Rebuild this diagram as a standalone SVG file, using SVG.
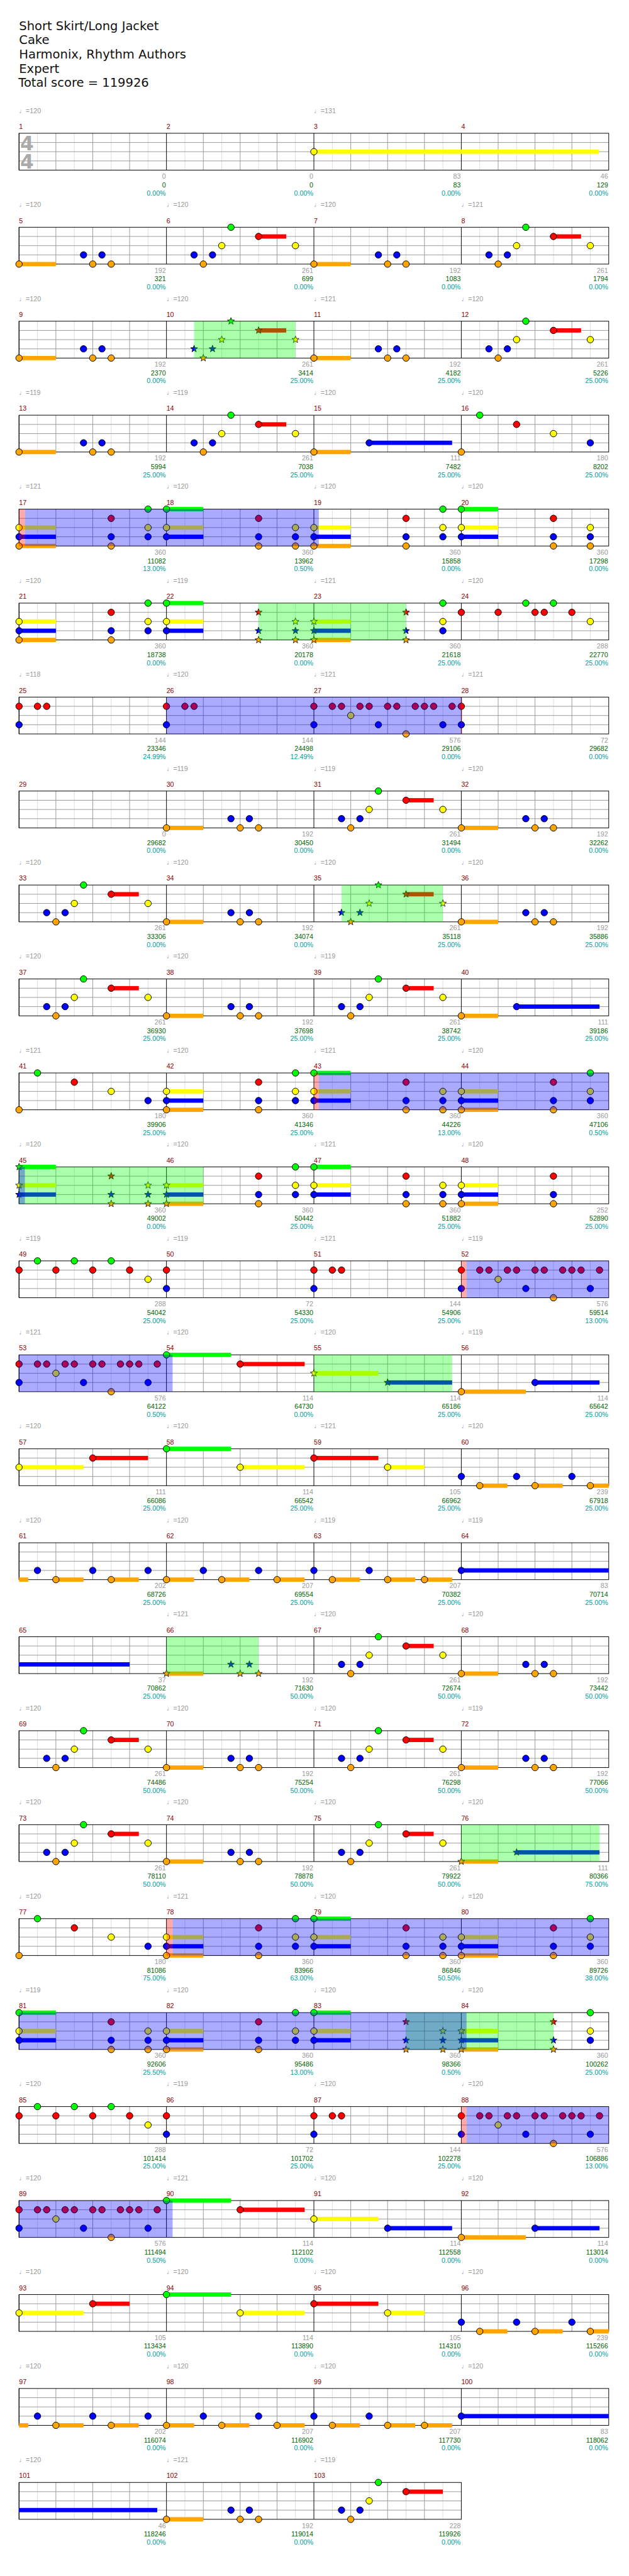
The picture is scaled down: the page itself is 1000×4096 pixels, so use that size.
<svg xmlns="http://www.w3.org/2000/svg" width="1000" height="4096" viewBox="0 0 1000 4096">
<defs>
<style>
text{font-family:"Liberation Sans","DejaVu Sans",sans-serif;font-size:11px}
.t{font-family:"DejaVu Sans","Liberation Sans",sans-serif;font-size:20px;fill:#111}
.ts{font-family:"DejaVu Sans",sans-serif;font-size:32px;font-weight:bold;fill:#aaa;text-anchor:middle}
.mn{fill:#8b0000}
.tp{fill:#999}
.a{fill:#999;text-anchor:end}
.c{fill:#006400;text-anchor:end}
.p{fill:#009c9c;text-anchor:end}
.G{fill:#0f0}.R{fill:#f00}.Y{fill:#ff0}.B{fill:#00f}.O{fill:#ffa500}
.lt{stroke:#ddd;fill:none}.dk{stroke:#999;fill:none}.bk{stroke:#000;fill:none}
.sp{fill:#0f0;fill-opacity:.333}.od{fill:#00f;fill-opacity:.333}.ac{fill:#f00;fill-opacity:.333}
</style>
<circle id="n" r="5.3" stroke="#000"/>
<polygon id="s" stroke="#000" stroke-width=".8" points="0,-6 1.47,-2.02 5.71,-1.85 2.38,0.77 3.53,4.85 0,2.5 -3.53,4.85 -2.38,0.77 -5.71,-1.85 -1.47,-2.02"/>
<g id="gm"><path class="lt" d="M30 0V60M90 0V60M150 0V60M210 0V60"/><path class="dk" d="M60 0V60M120 0V60M180 0V60M0 15H240M0 30H240M0 45H240"/><path class="bk" d="M0 0V60"/></g>
<g id="row"><use href="#gm"/><use href="#gm" x="240"/><use href="#gm" x="480"/><use href="#gm" x="720"/><rect class="bk" width="960" height="60"/></g>
<g id="pA"><rect class="O" y="56.5" width="60" height="7"/><use href="#n" class="O" y="60"/><use href="#n" class="B" x="105" y="45"/><use href="#n" class="O" x="120" y="60"/><use href="#n" class="B" x="135" y="45"/><use href="#n" class="O" x="150" y="60"/></g>
<g id="pAs"><rect class="O" y="56.5" width="60" height="7"/><use href="#s" class="O" y="60"/><use href="#s" class="B" x="105" y="45"/><use href="#s" class="O" x="120" y="60"/><use href="#s" class="B" x="135" y="45"/><use href="#s" class="O" x="150" y="60"/></g>
<g id="pB"><rect class="R" x="150" y="11.5" width="45" height="7"/><use href="#n" class="B" x="45" y="45"/><use href="#n" class="O" x="60" y="60"/><use href="#n" class="B" x="75" y="45"/><use href="#n" class="Y" x="90" y="30"/><use href="#n" class="G" x="105"/><use href="#n" class="R" x="150" y="15"/><use href="#n" class="Y" x="210" y="30"/></g>
<g id="pBs"><rect class="R" x="150" y="11.5" width="45" height="7"/><use href="#s" class="B" x="45" y="45"/><use href="#s" class="O" x="60" y="60"/><use href="#s" class="B" x="75" y="45"/><use href="#s" class="Y" x="90" y="30"/><use href="#s" class="G" x="105"/><use href="#s" class="R" x="150" y="15"/><use href="#s" class="Y" x="210" y="30"/></g>
<g id="pB2"><rect class="R" x="150" y="11.5" width="60" height="7"/><use href="#n" class="B" x="45" y="45"/><use href="#n" class="O" x="60" y="60"/><use href="#n" class="B" x="75" y="45"/><use href="#n" class="Y" x="90" y="30"/><use href="#n" class="G" x="105"/><use href="#n" class="R" x="150" y="15"/></g>
<g id="kYBO"><use href="#n" class="Y" y="30"/><use href="#n" class="B" y="45"/><use href="#n" class="O" y="60"/></g>
<g id="kRBO"><use href="#n" class="R" y="15"/><use href="#n" class="B" y="45"/><use href="#n" class="O" y="60"/></g>
<g id="kGYB"><use href="#n" class="G"/><use href="#n" class="Y" y="30"/><use href="#n" class="B" y="45"/></g>
<g id="sYBO"><use href="#s" class="Y" y="30"/><use href="#s" class="B" y="45"/><use href="#s" class="O" y="60"/></g>
<g id="sRBO"><use href="#s" class="R" y="15"/><use href="#s" class="B" y="45"/><use href="#s" class="O" y="60"/></g>
<g id="sGYB"><use href="#s" class="G"/><use href="#s" class="Y" y="30"/><use href="#s" class="B" y="45"/></g>
<g id="bYBO"><rect class="Y" y="26.5" width="60" height="7"/><rect class="B" y="41.5" width="60" height="7"/><rect class="O" y="56.5" width="60" height="7"/></g>
<g id="bGYB"><rect class="G" y="-3.5" width="60" height="7"/><rect class="Y" y="26.5" width="60" height="7"/><rect class="B" y="41.5" width="60" height="7"/></g>
<g id="pC"><use href="#bYBO"/><use href="#kYBO"/><use href="#kRBO" x="150"/><use href="#kGYB" x="210"/></g>
<g id="pD"><use href="#bGYB"/><use href="#kGYB"/><use href="#kRBO" x="150"/><use href="#kYBO" x="210"/></g>
<g id="pE"><use href="#n" class="R" y="15"/><use href="#n" class="B" y="45"/><use href="#n" class="R" x="30" y="15"/><use href="#n" class="R" x="45" y="15"/><use href="#n" class="Y" x="60" y="30"/><use href="#n" class="R" x="75" y="15"/><use href="#n" class="R" x="90" y="15"/><use href="#n" class="B" x="105" y="45"/><use href="#n" class="R" x="120" y="15"/><use href="#n" class="R" x="135" y="15"/><use href="#n" class="O" x="150" y="60"/><use href="#n" class="R" x="165" y="15"/><use href="#n" class="R" x="180" y="15"/><use href="#n" class="R" x="195" y="15"/><use href="#n" class="B" x="210" y="45"/><use href="#n" class="R" x="225" y="15"/></g>
<g id="pF"><use href="#n" class="O" y="60"/><use href="#n" class="G" x="30"/><use href="#n" class="R" x="90" y="15"/><use href="#n" class="Y" x="150" y="30"/><use href="#n" class="B" x="210" y="45"/></g>
<g id="pG"><use href="#n" class="R" y="15"/><use href="#n" class="G" x="30"/><use href="#n" class="R" x="60" y="15"/><use href="#n" class="G" x="90"/><use href="#n" class="R" x="120" y="15"/><use href="#n" class="G" x="150"/><use href="#n" class="R" x="180" y="15"/><use href="#n" class="Y" x="210" y="30"/></g>
<g id="pH"><use href="#n" class="R" y="15"/><use href="#n" class="B" y="45"/><use href="#n" class="R" x="30" y="15"/><use href="#n" class="R" x="45" y="15"/></g>
<g id="pRB"><use href="#n" class="R" y="15"/><use href="#n" class="B" y="45"/></g>
<g id="pI"><rect class="O" y="56.5" width="60" height="7"/><rect class="B" x="90" y="41.5" width="135" height="7"/><use href="#n" class="O" y="60"/><use href="#n" class="B" x="90" y="45"/></g>
<g id="pJ"><rect class="O" x="30" y="56.5" width="45" height="7"/><rect class="O" x="120" y="56.5" width="45" height="7"/><rect class="O" x="210" y="56.5" width="30" height="7"/><use href="#n" class="B" y="45"/><use href="#n" class="O" x="30" y="60"/><use href="#n" class="B" x="90" y="45"/><use href="#n" class="O" x="120" y="60"/><use href="#n" class="B" x="180" y="45"/><use href="#n" class="O" x="210" y="60"/></g>
<g id="pK"><rect class="O" y="56.5" width="15" height="7"/><rect class="O" x="60" y="56.5" width="45" height="7"/><rect class="O" x="150" y="56.5" width="45" height="7"/><use href="#n" class="B" x="30" y="45"/><use href="#n" class="O" x="60" y="60"/><use href="#n" class="B" x="120" y="45"/><use href="#n" class="O" x="150" y="60"/><use href="#n" class="B" x="210" y="45"/></g>
<g id="pL"><rect class="O" y="56.5" width="45" height="7"/><rect class="O" x="90" y="56.5" width="45" height="7"/><rect class="O" x="180" y="56.5" width="45" height="7"/><use href="#n" class="O" y="60"/><use href="#n" class="B" x="60" y="45"/><use href="#n" class="O" x="90" y="60"/><use href="#n" class="B" x="150" y="45"/><use href="#n" class="O" x="180" y="60"/></g>
<g id="pM"><rect class="O" x="30" y="56.5" width="45" height="7"/><rect class="O" x="120" y="56.5" width="45" height="7"/><rect class="O" x="180" y="56.5" width="45" height="7"/><use href="#n" class="B" y="45"/><use href="#n" class="O" x="30" y="60"/><use href="#n" class="B" x="90" y="45"/><use href="#n" class="O" x="120" y="60"/><use href="#n" class="O" x="180" y="60"/></g>
<g id="pBL"><rect class="B" y="41.5" width="240" height="7"/><use href="#n" class="B" y="45"/></g>
</defs>
<g transform="scale(0.9765625)">
<g id="title">
<text class="t" x="31" y="49">Short Skirt/Long Jacket</text>
<text class="t" x="31" y="72">Cake</text>
<text class="t" x="31" y="95.5">Harmonix, Rhythm Authors</text>
<text class="t" x="31" y="118.5">Expert</text>
<text class="t" x="30" y="141.5">Total score = 119926</text>
</g>
<g id="grid">
<use href="#row" x="31" y="217"/><use href="#row" x="31" y="370"/><use href="#row" x="31" y="523"/><use href="#row" x="31" y="676"/><use href="#row" x="31" y="829"/><use href="#row" x="31" y="982"/><use href="#row" x="31" y="1135"/><use href="#row" x="31" y="1288"/><use href="#row" x="31" y="1441"/><use href="#row" x="31" y="1594"/><use href="#row" x="31" y="1747"/><use href="#row" x="31" y="1900"/><use href="#row" x="31" y="2053"/><use href="#row" x="31" y="2206"/><use href="#row" x="31" y="2359"/><use href="#row" x="31" y="2512"/><use href="#row" x="31" y="2665"/><use href="#row" x="31" y="2818"/><use href="#row" x="31" y="2971"/><use href="#row" x="31" y="3124"/><use href="#row" x="31" y="3277"/><use href="#row" x="31" y="3430"/><use href="#row" x="31" y="3583"/><use href="#row" x="31" y="3736"/><use href="#row" x="31" y="3889"/>
<g transform="translate(31,4042)"><use href="#gm"/><use href="#gm" x="240"/><use href="#gm" x="480"/><rect class="bk" width="720" height="60"/></g>
</g>
<g id="measures">
<g id="m1" transform="translate(31,217)"><text class="ts" x="13" y="28">4</text><text class="ts" x="13" y="57">4</text><text class="mn" y="-7">1</text><text class="tp" y="-33">♩=120</text><text class="a" x="239" y="74">0</text><text class="c" x="239" y="88">0</text><text class="p" x="239" y="101">0.00%</text></g>
<g id="m2" transform="translate(271,217)"><text class="mn" y="-7">2</text><text class="a" x="239" y="74">0</text><text class="c" x="239" y="88">0</text><text class="p" x="239" y="101">0.00%</text></g>
<g id="m3" transform="translate(511,217)"><text class="mn" y="-7">3</text><text class="tp" y="-33">♩=131</text><text class="a" x="239" y="74">83</text><text class="c" x="239" y="88">83</text><text class="p" x="239" y="101">0.00%</text><rect class="Y" y="26.5" width="464" height="7"/><use href="#n" class="Y" y="30"/></g>
<g id="m4" transform="translate(751,217)"><text class="mn" y="-7">4</text><text class="a" x="239" y="74">46</text><text class="c" x="239" y="88">129</text><text class="p" x="239" y="101">0.00%</text></g>
<g id="m5" transform="translate(31,370)"><text class="mn" y="-7">5</text><text class="tp" y="-33">♩=120</text><text class="a" x="239" y="74">192</text><text class="c" x="239" y="88">321</text><text class="p" x="239" y="101">0.00%</text><use href="#pA"/></g>
<g id="m6" transform="translate(271,370)"><text class="mn" y="-7">6</text><text class="tp" y="-33">♩=120</text><text class="a" x="239" y="74">261</text><text class="c" x="239" y="88">699</text><text class="p" x="239" y="101">0.00%</text><use href="#pB"/></g>
<g id="m7" transform="translate(511,370)"><text class="mn" y="-7">7</text><text class="tp" y="-33">♩=120</text><text class="a" x="239" y="74">192</text><text class="c" x="239" y="88">1083</text><text class="p" x="239" y="101">0.00%</text><use href="#pA"/></g>
<g id="m8" transform="translate(751,370)"><text class="mn" y="-7">8</text><text class="tp" y="-33">♩=121</text><text class="a" x="239" y="74">261</text><text class="c" x="239" y="88">1794</text><text class="p" x="239" y="101">0.00%</text><use href="#pB"/></g>
<g id="m9" transform="translate(31,523)"><text class="mn" y="-7">9</text><text class="tp" y="-33">♩=120</text><text class="a" x="239" y="74">192</text><text class="c" x="239" y="88">2370</text><text class="p" x="239" y="101">0.00%</text><use href="#pA"/></g>
<g id="m10" transform="translate(271,523)"><text class="mn" y="-7">10</text><text class="tp" y="-33">♩=120</text><text class="a" x="239" y="74">261</text><text class="c" x="239" y="88">3414</text><text class="p" x="239" y="101">25.00%</text><use href="#pBs"/></g>
<g id="m11" transform="translate(511,523)"><text class="mn" y="-7">11</text><text class="tp" y="-33">♩=121</text><text class="a" x="239" y="74">192</text><text class="c" x="239" y="88">4182</text><text class="p" x="239" y="101">25.00%</text><use href="#pA"/></g>
<g id="m12" transform="translate(751,523)"><text class="mn" y="-7">12</text><text class="tp" y="-33">♩=120</text><text class="a" x="239" y="74">261</text><text class="c" x="239" y="88">5226</text><text class="p" x="239" y="101">25.00%</text><use href="#pB"/></g>
<g id="m13" transform="translate(31,676)"><text class="mn" y="-7">13</text><text class="tp" y="-33">♩=119</text><text class="a" x="239" y="74">192</text><text class="c" x="239" y="88">5994</text><text class="p" x="239" y="101">25.00%</text><use href="#pA"/></g>
<g id="m14" transform="translate(271,676)"><text class="mn" y="-7">14</text><text class="tp" y="-33">♩=119</text><text class="a" x="239" y="74">261</text><text class="c" x="239" y="88">7038</text><text class="p" x="239" y="101">25.00%</text><use href="#pB"/></g>
<g id="m15" transform="translate(511,676)"><text class="mn" y="-7">15</text><text class="tp" y="-33">♩=120</text><text class="a" x="239" y="74">111</text><text class="c" x="239" y="88">7482</text><text class="p" x="239" y="101">25.00%</text><use href="#pI"/></g>
<g id="m16" transform="translate(751,676)"><text class="mn" y="-7">16</text><text class="tp" y="-33">♩=120</text><text class="a" x="239" y="74">180</text><text class="c" x="239" y="88">8202</text><text class="p" x="239" y="101">25.00%</text><use href="#pF"/></g>
<g id="m17" transform="translate(31,829)"><text class="mn" y="-7">17</text><text class="tp" y="-33">♩=121</text><text class="a" x="239" y="74">360</text><text class="c" x="239" y="88">11082</text><text class="p" x="239" y="101">13.00%</text><use href="#pC"/></g>
<g id="m18" transform="translate(271,829)"><text class="mn" y="-7">18</text><text class="tp" y="-33">♩=120</text><text class="a" x="239" y="74">360</text><text class="c" x="239" y="88">13962</text><text class="p" x="239" y="101">0.50%</text><use href="#pD"/></g>
<g id="m19" transform="translate(511,829)"><text class="mn" y="-7">19</text><text class="tp" y="-33">♩=120</text><text class="a" x="239" y="74">360</text><text class="c" x="239" y="88">15858</text><text class="p" x="239" y="101">0.00%</text><use href="#pC"/></g>
<g id="m20" transform="translate(751,829)"><text class="mn" y="-7">20</text><text class="tp" y="-33">♩=120</text><text class="a" x="239" y="74">360</text><text class="c" x="239" y="88">17298</text><text class="p" x="239" y="101">0.00%</text><use href="#pD"/></g>
<g id="m21" transform="translate(31,982)"><text class="mn" y="-7">21</text><text class="tp" y="-33">♩=120</text><text class="a" x="239" y="74">360</text><text class="c" x="239" y="88">18738</text><text class="p" x="239" y="101">0.00%</text><use href="#pC"/></g>
<g id="m22" transform="translate(271,982)"><text class="mn" y="-7">22</text><text class="tp" y="-33">♩=119</text><text class="a" x="239" y="74">360</text><text class="c" x="239" y="88">20178</text><text class="p" x="239" y="101">0.00%</text><use href="#bGYB"/><use href="#kGYB"/><use href="#sRBO" x="150"/><use href="#sYBO" x="210"/></g>
<g id="m23" transform="translate(511,982)"><text class="mn" y="-7">23</text><text class="tp" y="-33">♩=121</text><text class="a" x="239" y="74">360</text><text class="c" x="239" y="88">21618</text><text class="p" x="239" y="101">25.00%</text><use href="#bYBO"/><use href="#sYBO"/><use href="#sRBO" x="150"/><use href="#kGYB" x="210"/></g>
<g id="m24" transform="translate(751,982)"><text class="mn" y="-7">24</text><text class="tp" y="-33">♩=120</text><text class="a" x="239" y="74">288</text><text class="c" x="239" y="88">22770</text><text class="p" x="239" y="101">25.00%</text><use href="#n" class="R" y="15"/><use href="#n" class="R" x="60" y="15"/><use href="#n" class="G" x="105"/><use href="#n" class="R" x="120" y="15"/><use href="#n" class="R" x="135" y="15"/><use href="#n" class="G" x="150"/><use href="#n" class="R" x="180" y="15"/><use href="#n" class="Y" x="210" y="30"/></g>
<g id="m25" transform="translate(31,1135)"><text class="mn" y="-7">25</text><text class="tp" y="-33">♩=118</text><text class="a" x="239" y="74">144</text><text class="c" x="239" y="88">23346</text><text class="p" x="239" y="101">24.99%</text><use href="#pH"/></g>
<g id="m26" transform="translate(271,1135)"><text class="mn" y="-7">26</text><text class="tp" y="-33">♩=120</text><text class="a" x="239" y="74">144</text><text class="c" x="239" y="88">24498</text><text class="p" x="239" y="101">12.49%</text><use href="#pH"/></g>
<g id="m27" transform="translate(511,1135)"><text class="mn" y="-7">27</text><text class="tp" y="-33">♩=121</text><text class="a" x="239" y="74">576</text><text class="c" x="239" y="88">29106</text><text class="p" x="239" y="101">0.00%</text><use href="#pE"/></g>
<g id="m28" transform="translate(751,1135)"><text class="mn" y="-7">28</text><text class="tp" y="-33">♩=121</text><text class="a" x="239" y="74">72</text><text class="c" x="239" y="88">29682</text><text class="p" x="239" y="101">0.00%</text><use href="#pRB"/></g>
<g id="m29" transform="translate(31,1288)"><text class="mn" y="-7">29</text><text class="a" x="239" y="74">0</text><text class="c" x="239" y="88">29682</text><text class="p" x="239" y="101">0.00%</text></g>
<g id="m30" transform="translate(271,1288)"><text class="mn" y="-7">30</text><text class="tp" y="-33">♩=119</text><text class="a" x="239" y="74">192</text><text class="c" x="239" y="88">30450</text><text class="p" x="239" y="101">0.00%</text><use href="#pA"/></g>
<g id="m31" transform="translate(511,1288)"><text class="mn" y="-7">31</text><text class="tp" y="-33">♩=119</text><text class="a" x="239" y="74">261</text><text class="c" x="239" y="88">31494</text><text class="p" x="239" y="101">0.00%</text><use href="#pB"/></g>
<g id="m32" transform="translate(751,1288)"><text class="mn" y="-7">32</text><text class="tp" y="-33">♩=120</text><text class="a" x="239" y="74">192</text><text class="c" x="239" y="88">32262</text><text class="p" x="239" y="101">0.00%</text><use href="#pA"/></g>
<g id="m33" transform="translate(31,1441)"><text class="mn" y="-7">33</text><text class="tp" y="-33">♩=120</text><text class="a" x="239" y="74">261</text><text class="c" x="239" y="88">33306</text><text class="p" x="239" y="101">0.00%</text><use href="#pB"/></g>
<g id="m34" transform="translate(271,1441)"><text class="mn" y="-7">34</text><text class="tp" y="-33">♩=120</text><text class="a" x="239" y="74">192</text><text class="c" x="239" y="88">34074</text><text class="p" x="239" y="101">0.00%</text><use href="#pA"/></g>
<g id="m35" transform="translate(511,1441)"><text class="mn" y="-7">35</text><text class="tp" y="-33">♩=120</text><text class="a" x="239" y="74">261</text><text class="c" x="239" y="88">35118</text><text class="p" x="239" y="101">25.00%</text><use href="#pBs"/></g>
<g id="m36" transform="translate(751,1441)"><text class="mn" y="-7">36</text><text class="tp" y="-33">♩=120</text><text class="a" x="239" y="74">192</text><text class="c" x="239" y="88">35886</text><text class="p" x="239" y="101">25.00%</text><use href="#pA"/></g>
<g id="m37" transform="translate(31,1594)"><text class="mn" y="-7">37</text><text class="tp" y="-33">♩=120</text><text class="a" x="239" y="74">261</text><text class="c" x="239" y="88">36930</text><text class="p" x="239" y="101">25.00%</text><use href="#pB"/></g>
<g id="m38" transform="translate(271,1594)"><text class="mn" y="-7">38</text><text class="tp" y="-33">♩=120</text><text class="a" x="239" y="74">192</text><text class="c" x="239" y="88">37698</text><text class="p" x="239" y="101">25.00%</text><use href="#pA"/></g>
<g id="m39" transform="translate(511,1594)"><text class="mn" y="-7">39</text><text class="tp" y="-33">♩=119</text><text class="a" x="239" y="74">261</text><text class="c" x="239" y="88">38742</text><text class="p" x="239" y="101">25.00%</text><use href="#pB"/></g>
<g id="m40" transform="translate(751,1594)"><text class="mn" y="-7">40</text><text class="a" x="239" y="74">111</text><text class="c" x="239" y="88">39186</text><text class="p" x="239" y="101">25.00%</text><use href="#pI"/></g>
<g id="m41" transform="translate(31,1747)"><text class="mn" y="-7">41</text><text class="tp" y="-33">♩=121</text><text class="a" x="239" y="74">180</text><text class="c" x="239" y="88">39906</text><text class="p" x="239" y="101">25.00%</text><use href="#pF"/></g>
<g id="m42" transform="translate(271,1747)"><text class="mn" y="-7">42</text><text class="tp" y="-33">♩=120</text><text class="a" x="239" y="74">360</text><text class="c" x="239" y="88">41346</text><text class="p" x="239" y="101">25.00%</text><use href="#pC"/></g>
<g id="m43" transform="translate(511,1747)"><text class="mn" y="-7">43</text><text class="tp" y="-33">♩=121</text><text class="a" x="239" y="74">360</text><text class="c" x="239" y="88">44226</text><text class="p" x="239" y="101">13.00%</text><use href="#pD"/></g>
<g id="m44" transform="translate(751,1747)"><text class="mn" y="-7">44</text><text class="tp" y="-33">♩=120</text><text class="a" x="239" y="74">360</text><text class="c" x="239" y="88">47106</text><text class="p" x="239" y="101">0.50%</text><use href="#pC"/></g>
<g id="m45" transform="translate(31,1900)"><text class="mn" y="-7">45</text><text class="tp" y="-33">♩=120</text><text class="a" x="239" y="74">360</text><text class="c" x="239" y="88">49002</text><text class="p" x="239" y="101">0.00%</text><use href="#bGYB"/><use href="#sGYB"/><use href="#sRBO" x="150"/><use href="#sYBO" x="210"/></g>
<g id="m46" transform="translate(271,1900)"><text class="mn" y="-7">46</text><text class="tp" y="-33">♩=120</text><text class="a" x="239" y="74">360</text><text class="c" x="239" y="88">50442</text><text class="p" x="239" y="101">25.00%</text><use href="#bYBO"/><use href="#sYBO"/><use href="#kRBO" x="150"/><use href="#kGYB" x="210"/></g>
<g id="m47" transform="translate(511,1900)"><text class="mn" y="-7">47</text><text class="tp" y="-33">♩=121</text><text class="a" x="239" y="74">360</text><text class="c" x="239" y="88">51882</text><text class="p" x="239" y="101">25.00%</text><use href="#pD"/></g>
<g id="m48" transform="translate(751,1900)"><text class="mn" y="-7">48</text><text class="tp" y="-33">♩=120</text><text class="a" x="239" y="74">252</text><text class="c" x="239" y="88">52890</text><text class="p" x="239" y="101">25.00%</text><use href="#bYBO"/><use href="#kYBO"/><use href="#kRBO" x="150"/></g>
<g id="m49" transform="translate(31,2053)"><text class="mn" y="-7">49</text><text class="tp" y="-33">♩=119</text><text class="a" x="239" y="74">288</text><text class="c" x="239" y="88">54042</text><text class="p" x="239" y="101">25.00%</text><use href="#pG"/></g>
<g id="m50" transform="translate(271,2053)"><text class="mn" y="-7">50</text><text class="tp" y="-33">♩=119</text><text class="a" x="239" y="74">72</text><text class="c" x="239" y="88">54330</text><text class="p" x="239" y="101">25.00%</text><use href="#pRB"/></g>
<g id="m51" transform="translate(511,2053)"><text class="mn" y="-7">51</text><text class="tp" y="-33">♩=121</text><text class="a" x="239" y="74">144</text><text class="c" x="239" y="88">54906</text><text class="p" x="239" y="101">25.00%</text><use href="#pH"/></g>
<g id="m52" transform="translate(751,2053)"><text class="mn" y="-7">52</text><text class="tp" y="-33">♩=119</text><text class="a" x="239" y="74">576</text><text class="c" x="239" y="88">59514</text><text class="p" x="239" y="101">13.00%</text><use href="#pE"/></g>
<g id="m53" transform="translate(31,2206)"><text class="mn" y="-7">53</text><text class="tp" y="-33">♩=121</text><text class="a" x="239" y="74">576</text><text class="c" x="239" y="88">64122</text><text class="p" x="239" y="101">0.50%</text><use href="#pE"/></g>
<g id="m54" transform="translate(271,2206)"><text class="mn" y="-7">54</text><text class="tp" y="-33">♩=120</text><text class="a" x="239" y="74">114</text><text class="c" x="239" y="88">64730</text><text class="p" x="239" y="101">0.00%</text><rect class="G" y="-3.5" width="105" height="7"/><rect class="R" x="120" y="11.5" width="105" height="7"/><use href="#n" class="G"/><use href="#n" class="R" x="120" y="15"/></g>
<g id="m55" transform="translate(511,2206)"><text class="mn" y="-7">55</text><text class="tp" y="-33">♩=120</text><text class="a" x="239" y="74">114</text><text class="c" x="239" y="88">65186</text><text class="p" x="239" y="101">25.00%</text><rect class="Y" y="26.5" width="105" height="7"/><rect class="B" x="120" y="41.5" width="105" height="7"/><use href="#s" class="Y" y="30"/><use href="#s" class="B" x="120" y="45"/></g>
<g id="m56" transform="translate(751,2206)"><text class="mn" y="-7">56</text><text class="tp" y="-33">♩=119</text><text class="a" x="239" y="74">114</text><text class="c" x="239" y="88">65642</text><text class="p" x="239" y="101">25.00%</text><rect class="O" y="56.5" width="105" height="7"/><rect class="B" x="120" y="41.5" width="105" height="7"/><use href="#n" class="O" y="60"/><use href="#n" class="B" x="120" y="45"/></g>
<g id="m57" transform="translate(31,2359)"><text class="mn" y="-7">57</text><text class="tp" y="-33">♩=120</text><text class="a" x="239" y="74">111</text><text class="c" x="239" y="88">66086</text><text class="p" x="239" y="101">25.00%</text><rect class="Y" y="26.5" width="105" height="7"/><rect class="R" x="120" y="11.5" width="90" height="7"/><use href="#n" class="Y" y="30"/><use href="#n" class="R" x="120" y="15"/></g>
<g id="m58" transform="translate(271,2359)"><text class="mn" y="-7">58</text><text class="tp" y="-33">♩=120</text><text class="a" x="239" y="74">114</text><text class="c" x="239" y="88">66542</text><text class="p" x="239" y="101">25.00%</text><rect class="G" y="-3.5" width="105" height="7"/><rect class="Y" x="120" y="26.5" width="105" height="7"/><use href="#n" class="G"/><use href="#n" class="Y" x="120" y="30"/></g>
<g id="m59" transform="translate(511,2359)"><text class="mn" y="-7">59</text><text class="tp" y="-33">♩=121</text><text class="a" x="239" y="74">105</text><text class="c" x="239" y="88">66962</text><text class="p" x="239" y="101">25.00%</text><rect class="R" y="11.5" width="105" height="7"/><rect class="Y" x="120" y="26.5" width="60" height="7"/><use href="#n" class="R" y="15"/><use href="#n" class="Y" x="120" y="30"/></g>
<g id="m60" transform="translate(751,2359)"><text class="mn" y="-7">60</text><text class="tp" y="-33">♩=120</text><text class="a" x="239" y="74">239</text><text class="c" x="239" y="88">67918</text><text class="p" x="239" y="101">25.00%</text><use href="#pJ"/></g>
<g id="m61" transform="translate(31,2512)"><text class="mn" y="-7">61</text><text class="tp" y="-33">♩=120</text><text class="a" x="239" y="74">202</text><text class="c" x="239" y="88">68726</text><text class="p" x="239" y="101">25.00%</text><use href="#pK"/></g>
<g id="m62" transform="translate(271,2512)"><text class="mn" y="-7">62</text><text class="tp" y="-33">♩=120</text><text class="a" x="239" y="74">207</text><text class="c" x="239" y="88">69554</text><text class="p" x="239" y="101">25.00%</text><use href="#pL"/></g>
<g id="m63" transform="translate(511,2512)"><text class="mn" y="-7">63</text><text class="tp" y="-33">♩=119</text><text class="a" x="239" y="74">207</text><text class="c" x="239" y="88">70382</text><text class="p" x="239" y="101">25.00%</text><use href="#pM"/></g>
<g id="m64" transform="translate(751,2512)"><text class="mn" y="-7">64</text><text class="tp" y="-33">♩=119</text><text class="a" x="239" y="74">83</text><text class="c" x="239" y="88">70714</text><text class="p" x="239" y="101">25.00%</text><use href="#pBL"/></g>
<g id="m65" transform="translate(31,2665)"><text class="mn" y="-7">65</text><text class="a" x="239" y="74">37</text><text class="c" x="239" y="88">70862</text><text class="p" x="239" y="101">25.00%</text><rect class="B" y="41.5" width="180" height="7"/></g>
<g id="m66" transform="translate(271,2665)"><text class="mn" y="-7">66</text><text class="tp" y="-33">♩=121</text><text class="a" x="239" y="74">192</text><text class="c" x="239" y="88">71630</text><text class="p" x="239" y="101">50.00%</text><use href="#pAs"/></g>
<g id="m67" transform="translate(511,2665)"><text class="mn" y="-7">67</text><text class="tp" y="-33">♩=120</text><text class="a" x="239" y="74">261</text><text class="c" x="239" y="88">72674</text><text class="p" x="239" y="101">50.00%</text><use href="#pB"/></g>
<g id="m68" transform="translate(751,2665)"><text class="mn" y="-7">68</text><text class="tp" y="-33">♩=120</text><text class="a" x="239" y="74">192</text><text class="c" x="239" y="88">73442</text><text class="p" x="239" y="101">50.00%</text><use href="#pA"/></g>
<g id="m69" transform="translate(31,2818)"><text class="mn" y="-7">69</text><text class="tp" y="-33">♩=120</text><text class="a" x="239" y="74">261</text><text class="c" x="239" y="88">74486</text><text class="p" x="239" y="101">50.00%</text><use href="#pB"/></g>
<g id="m70" transform="translate(271,2818)"><text class="mn" y="-7">70</text><text class="tp" y="-33">♩=120</text><text class="a" x="239" y="74">192</text><text class="c" x="239" y="88">75254</text><text class="p" x="239" y="101">50.00%</text><use href="#pA"/></g>
<g id="m71" transform="translate(511,2818)"><text class="mn" y="-7">71</text><text class="tp" y="-33">♩=120</text><text class="a" x="239" y="74">261</text><text class="c" x="239" y="88">76298</text><text class="p" x="239" y="101">50.00%</text><use href="#pB"/></g>
<g id="m72" transform="translate(751,2818)"><text class="mn" y="-7">72</text><text class="tp" y="-33">♩=119</text><text class="a" x="239" y="74">192</text><text class="c" x="239" y="88">77066</text><text class="p" x="239" y="101">50.00%</text><use href="#pA"/></g>
<g id="m73" transform="translate(31,2971)"><text class="mn" y="-7">73</text><text class="tp" y="-33">♩=120</text><text class="a" x="239" y="74">261</text><text class="c" x="239" y="88">78110</text><text class="p" x="239" y="101">50.00%</text><use href="#pB"/></g>
<g id="m74" transform="translate(271,2971)"><text class="mn" y="-7">74</text><text class="tp" y="-33">♩=120</text><text class="a" x="239" y="74">192</text><text class="c" x="239" y="88">78878</text><text class="p" x="239" y="101">50.00%</text><use href="#pA"/></g>
<g id="m75" transform="translate(511,2971)"><text class="mn" y="-7">75</text><text class="tp" y="-33">♩=120</text><text class="a" x="239" y="74">261</text><text class="c" x="239" y="88">79922</text><text class="p" x="239" y="101">50.00%</text><use href="#pB"/></g>
<g id="m76" transform="translate(751,2971)"><text class="mn" y="-7">76</text><text class="tp" y="-33">♩=120</text><text class="a" x="239" y="74">111</text><text class="c" x="239" y="88">80366</text><text class="p" x="239" y="101">75.00%</text><rect class="O" y="56.5" width="60" height="7"/><rect class="B" x="90" y="41.5" width="135" height="7"/><use href="#s" class="O" y="60"/><use href="#s" class="B" x="90" y="45"/></g>
<g id="m77" transform="translate(31,3124)"><text class="mn" y="-7">77</text><text class="tp" y="-33">♩=120</text><text class="a" x="239" y="74">180</text><text class="c" x="239" y="88">81086</text><text class="p" x="239" y="101">75.00%</text><use href="#pF"/></g>
<g id="m78" transform="translate(271,3124)"><text class="mn" y="-7">78</text><text class="tp" y="-33">♩=121</text><text class="a" x="239" y="74">360</text><text class="c" x="239" y="88">83966</text><text class="p" x="239" y="101">63.00%</text><use href="#pC"/></g>
<g id="m79" transform="translate(511,3124)"><text class="mn" y="-7">79</text><text class="tp" y="-33">♩=120</text><text class="a" x="239" y="74">360</text><text class="c" x="239" y="88">86846</text><text class="p" x="239" y="101">50.50%</text><use href="#pD"/></g>
<g id="m80" transform="translate(751,3124)"><text class="mn" y="-7">80</text><text class="tp" y="-33">♩=120</text><text class="a" x="239" y="74">360</text><text class="c" x="239" y="88">89726</text><text class="p" x="239" y="101">38.00%</text><use href="#pC"/></g>
<g id="m81" transform="translate(31,3277)"><text class="mn" y="-7">81</text><text class="tp" y="-33">♩=119</text><text class="a" x="239" y="74">360</text><text class="c" x="239" y="88">92606</text><text class="p" x="239" y="101">25.50%</text><use href="#pD"/></g>
<g id="m82" transform="translate(271,3277)"><text class="mn" y="-7">82</text><text class="tp" y="-33">♩=120</text><text class="a" x="239" y="74">360</text><text class="c" x="239" y="88">95486</text><text class="p" x="239" y="101">13.00%</text><use href="#pC"/></g>
<g id="m83" transform="translate(511,3277)"><text class="mn" y="-7">83</text><text class="tp" y="-33">♩=120</text><text class="a" x="239" y="74">360</text><text class="c" x="239" y="88">98366</text><text class="p" x="239" y="101">0.50%</text><use href="#bGYB"/><use href="#kGYB"/><use href="#sRBO" x="150"/><use href="#sYBO" x="210"/></g>
<g id="m84" transform="translate(751,3277)"><text class="mn" y="-7">84</text><text class="tp" y="-33">♩=120</text><text class="a" x="239" y="74">360</text><text class="c" x="239" y="88">100262</text><text class="p" x="239" y="101">25.00%</text><use href="#bYBO"/><use href="#sYBO"/><use href="#sRBO" x="150"/><use href="#kGYB" x="210"/></g>
<g id="m85" transform="translate(31,3430)"><text class="mn" y="-7">85</text><text class="tp" y="-33">♩=120</text><text class="a" x="239" y="74">288</text><text class="c" x="239" y="88">101414</text><text class="p" x="239" y="101">25.00%</text><use href="#pG"/></g>
<g id="m86" transform="translate(271,3430)"><text class="mn" y="-7">86</text><text class="tp" y="-33">♩=119</text><text class="a" x="239" y="74">72</text><text class="c" x="239" y="88">101702</text><text class="p" x="239" y="101">25.00%</text><use href="#pRB"/></g>
<g id="m87" transform="translate(511,3430)"><text class="mn" y="-7">87</text><text class="tp" y="-33">♩=120</text><text class="a" x="239" y="74">144</text><text class="c" x="239" y="88">102278</text><text class="p" x="239" y="101">25.00%</text><use href="#pH"/></g>
<g id="m88" transform="translate(751,3430)"><text class="mn" y="-7">88</text><text class="tp" y="-33">♩=120</text><text class="a" x="239" y="74">576</text><text class="c" x="239" y="88">106886</text><text class="p" x="239" y="101">13.00%</text><use href="#pE"/></g>
<g id="m89" transform="translate(31,3583)"><text class="mn" y="-7">89</text><text class="tp" y="-33">♩=120</text><text class="a" x="239" y="74">576</text><text class="c" x="239" y="88">111494</text><text class="p" x="239" y="101">0.50%</text><use href="#pE"/></g>
<g id="m90" transform="translate(271,3583)"><text class="mn" y="-7">90</text><text class="tp" y="-33">♩=121</text><text class="a" x="239" y="74">114</text><text class="c" x="239" y="88">112102</text><text class="p" x="239" y="101">0.00%</text><rect class="G" y="-3.5" width="105" height="7"/><rect class="R" x="120" y="11.5" width="105" height="7"/><use href="#n" class="G"/><use href="#n" class="R" x="120" y="15"/></g>
<g id="m91" transform="translate(511,3583)"><text class="mn" y="-7">91</text><text class="tp" y="-33">♩=120</text><text class="a" x="239" y="74">114</text><text class="c" x="239" y="88">112558</text><text class="p" x="239" y="101">0.00%</text><rect class="Y" y="26.5" width="105" height="7"/><rect class="B" x="120" y="41.5" width="105" height="7"/><use href="#n" class="Y" y="30"/><use href="#n" class="B" x="120" y="45"/></g>
<g id="m92" transform="translate(751,3583)"><text class="mn" y="-7">92</text><text class="tp" y="-33">♩=120</text><text class="a" x="239" y="74">114</text><text class="c" x="239" y="88">113014</text><text class="p" x="239" y="101">0.00%</text><rect class="O" y="56.5" width="105" height="7"/><rect class="B" x="120" y="41.5" width="105" height="7"/><use href="#n" class="O" y="60"/><use href="#n" class="B" x="120" y="45"/></g>
<g id="m93" transform="translate(31,3736)"><text class="mn" y="-7">93</text><text class="tp" y="-33">♩=120</text><text class="a" x="239" y="74">105</text><text class="c" x="239" y="88">113434</text><text class="p" x="239" y="101">0.00%</text><rect class="Y" y="26.5" width="105" height="7"/><rect class="R" x="120" y="11.5" width="60" height="7"/><use href="#n" class="Y" y="30"/><use href="#n" class="R" x="120" y="15"/></g>
<g id="m94" transform="translate(271,3736)"><text class="mn" y="-7">94</text><text class="tp" y="-33">♩=120</text><text class="a" x="239" y="74">114</text><text class="c" x="239" y="88">113890</text><text class="p" x="239" y="101">0.00%</text><rect class="G" y="-3.5" width="105" height="7"/><rect class="Y" x="120" y="26.5" width="105" height="7"/><use href="#n" class="G"/><use href="#n" class="Y" x="120" y="30"/></g>
<g id="m95" transform="translate(511,3736)"><text class="mn" y="-7">95</text><text class="tp" y="-33">♩=120</text><text class="a" x="239" y="74">105</text><text class="c" x="239" y="88">114310</text><text class="p" x="239" y="101">0.00%</text><rect class="R" y="11.5" width="105" height="7"/><rect class="Y" x="120" y="26.5" width="60" height="7"/><use href="#n" class="R" y="15"/><use href="#n" class="Y" x="120" y="30"/></g>
<g id="m96" transform="translate(751,3736)"><text class="mn" y="-7">96</text><text class="tp" y="-33">♩=120</text><text class="a" x="239" y="74">239</text><text class="c" x="239" y="88">115266</text><text class="p" x="239" y="101">0.00%</text><use href="#pJ"/></g>
<g id="m97" transform="translate(31,3889)"><text class="mn" y="-7">97</text><text class="tp" y="-33">♩=120</text><text class="a" x="239" y="74">202</text><text class="c" x="239" y="88">116074</text><text class="p" x="239" y="101">0.00%</text><use href="#pK"/></g>
<g id="m98" transform="translate(271,3889)"><text class="mn" y="-7">98</text><text class="tp" y="-33">♩=120</text><text class="a" x="239" y="74">207</text><text class="c" x="239" y="88">116902</text><text class="p" x="239" y="101">0.00%</text><use href="#pL"/></g>
<g id="m99" transform="translate(511,3889)"><text class="mn" y="-7">99</text><text class="tp" y="-33">♩=120</text><text class="a" x="239" y="74">207</text><text class="c" x="239" y="88">117730</text><text class="p" x="239" y="101">0.00%</text><use href="#pM"/></g>
<g id="m100" transform="translate(751,3889)"><text class="mn" y="-7">100</text><text class="tp" y="-33">♩=120</text><text class="a" x="239" y="74">83</text><text class="c" x="239" y="88">118062</text><text class="p" x="239" y="101">0.00%</text><use href="#pBL"/></g>
<g id="m101" transform="translate(31,4042)"><text class="mn" y="-7">101</text><text class="tp" y="-33">♩=120</text><text class="a" x="239" y="74">46</text><text class="c" x="239" y="88">118246</text><text class="p" x="239" y="101">0.00%</text><rect class="B" y="41.5" width="225" height="7"/></g>
<g id="m102" transform="translate(271,4042)"><text class="mn" y="-7">102</text><text class="tp" y="-33">♩=121</text><text class="a" x="239" y="74">192</text><text class="c" x="239" y="88">119014</text><text class="p" x="239" y="101">0.00%</text><use href="#pA"/></g>
<g id="m103" transform="translate(511,4042)"><text class="mn" y="-7">103</text><text class="tp" y="-33">♩=119</text><text class="a" x="239" y="74">228</text><text class="c" x="239" y="88">119926</text><text class="p" x="239" y="101">0.00%</text><use href="#pB2"/></g>
</g>
<g id="overlays">
<rect class="sp" x="316" y="523" width="165" height="60"/>
<rect class="sp" x="421" y="982" width="240" height="60"/>
<rect class="sp" x="556" y="1441" width="165" height="60"/>
<rect class="sp" x="31" y="1900" width="300" height="60"/>
<rect class="sp" x="511" y="2206" width="225" height="60"/>
<rect class="sp" x="271" y="2665" width="150" height="60"/>
<rect class="sp" x="751" y="2971" width="225" height="60"/>
<rect class="sp" x="661" y="3277" width="240" height="60"/>
<rect class="ac" x="31" y="829" width="9.5" height="60"/>
<rect class="od" x="40.5" y="829" width="478.5" height="60"/>
<rect class="od" x="271" y="1135" width="480" height="60"/>
<rect class="ac" x="751" y="1135" width="1.5" height="60"/>
<rect class="ac" x="511" y="1747" width="8" height="60"/>
<rect class="od" x="519" y="1747" width="472" height="60"/>
<rect class="od" x="31" y="1900" width="9.5" height="60"/>
<rect class="ac" x="751" y="2053" width="8.5" height="60"/>
<rect class="od" x="759.5" y="2053" width="231.5" height="60"/>
<rect class="od" x="31" y="2206" width="250" height="60"/>
<rect class="ac" x="271" y="3124" width="10" height="60"/>
<rect class="od" x="281" y="3124" width="710" height="60"/>
<rect class="od" x="31" y="3277" width="728.5" height="60"/>
<rect class="ac" x="751" y="3430" width="8.5" height="60"/>
<rect class="od" x="759.5" y="3430" width="231.5" height="60"/>
<rect class="od" x="31" y="3583" width="250" height="60"/>
</g>
</g>
</svg>
